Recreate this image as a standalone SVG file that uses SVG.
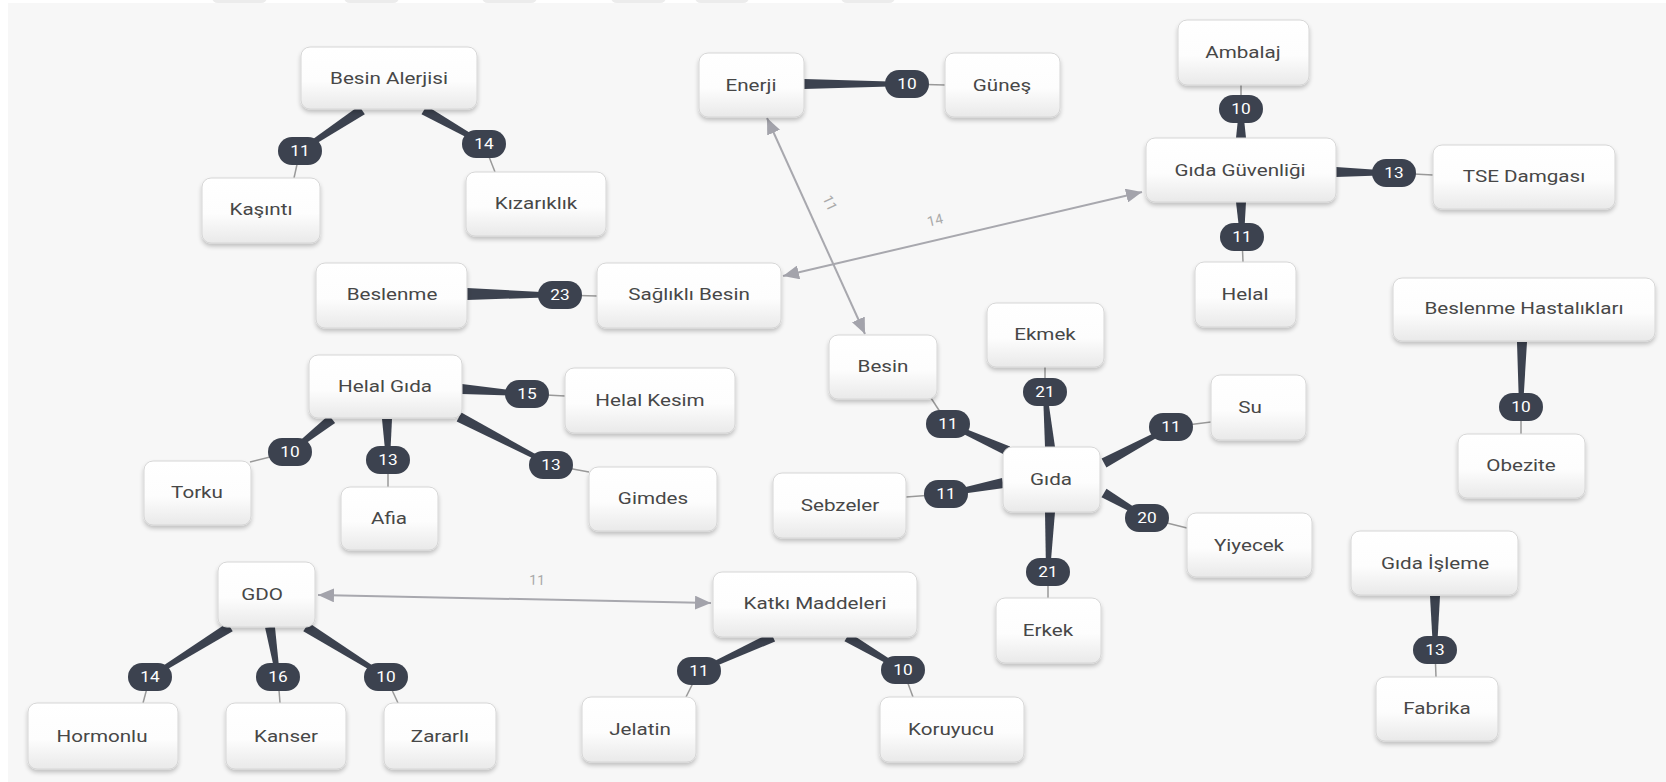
<svg xmlns="http://www.w3.org/2000/svg" width="1666" height="782" viewBox="0 0 1666 782">
<defs>
<linearGradient id="ng" x1="0" y1="0" x2="0" y2="1"><stop offset="0" stop-color="#ffffff"/><stop offset="0.55" stop-color="#fdfdfd"/><stop offset="1" stop-color="#e9e9e9"/></linearGradient>
<filter id="sh" x="-20%" y="-20%" width="140%" height="160%"><feDropShadow dx="0" dy="3" stdDeviation="2" flood-color="#000" flood-opacity="0.22"/></filter>
<marker id="ah" markerUnits="userSpaceOnUse" markerWidth="18" markerHeight="14" refX="16" refY="7" orient="auto-start-reverse"><path d="M0,0 L16,7 L0,14 Z" fill="#a3a3ab"/></marker>
<style>
.n rect{fill:url(#ng);stroke:#d6d6d6;stroke-width:1;filter:url(#sh)}
.n text{font-family:Roboto,"Liberation Sans",sans-serif;font-size:16.5px;fill:#474747;text-anchor:middle;dominant-baseline:central}
.w{fill:#3c424f}
.t{stroke:#999999;stroke-width:1.5;fill:none}
.b rect{fill:#3c424f}
.b text{font-family:Roboto,"Liberation Sans",sans-serif;font-size:15px;fill:#fff;text-anchor:middle;dominant-baseline:central}
.a{stroke:#a8a8ae;stroke-width:2;fill:none;marker-start:url(#ah);marker-end:url(#ah)}
.al{font-family:Roboto,"Liberation Sans",sans-serif;font-size:14px;fill:#aaaaaa;text-anchor:middle;dominant-baseline:central}
</style>
</defs>
<rect x="0" y="0" width="1666" height="782" fill="#ffffff"/>
<rect x="8" y="3" width="1658" height="779" fill="#f7f7f7"/>
<g fill="#ececec">
<rect x="212" y="-8" width="55" height="11" rx="6"/>
<rect x="344" y="-8" width="55" height="11" rx="6"/>
<rect x="482" y="-8" width="55" height="11" rx="6"/>
<rect x="611" y="-8" width="55" height="11" rx="6"/>
<rect x="695" y="-8" width="54" height="11" rx="6"/>
<rect x="841" y="-8" width="54" height="11" rx="6"/>
</g>
<g id="connectors">
<line class="a" x1="767" y1="118" x2="865" y2="334"/>
<line class="a" x1="783" y1="276" x2="1142" y2="192"/>
<line class="a" x1="318" y1="595" x2="711" y2="603"/>
<text class="al" transform="translate(830 203) rotate(65)">11</text>
<text class="al" transform="translate(935 220) rotate(-13.5)">14</text>
<text class="al" transform="translate(537 580) rotate(1)">11</text>
<line class="t" x1="300" y1="151" x2="294" y2="178"/>
<line class="t" x1="484" y1="144" x2="495" y2="172"/>
<line class="t" x1="907" y1="84" x2="945" y2="85"/>
<line class="t" x1="1241" y1="109" x2="1241" y2="85"/>
<line class="t" x1="1394" y1="173" x2="1433" y2="175"/>
<line class="t" x1="1242" y1="237" x2="1243" y2="262"/>
<line class="t" x1="560" y1="295" x2="597" y2="296"/>
<line class="t" x1="1521" y1="407" x2="1521" y2="434"/>
<line class="t" x1="527" y1="394" x2="565" y2="396"/>
<line class="t" x1="290" y1="452" x2="250" y2="462"/>
<line class="t" x1="388" y1="460" x2="388" y2="487"/>
<line class="t" x1="551" y1="465" x2="589" y2="472"/>
<line class="t" x1="948" y1="424" x2="931" y2="398"/>
<line class="t" x1="1045" y1="392" x2="1045" y2="367"/>
<line class="t" x1="1171" y1="427" x2="1211" y2="422"/>
<line class="t" x1="946" y1="494" x2="906" y2="497"/>
<line class="t" x1="1147" y1="518" x2="1187" y2="528"/>
<line class="t" x1="1048" y1="572" x2="1048" y2="598"/>
<line class="t" x1="1435" y1="650" x2="1436" y2="677"/>
<line class="t" x1="150" y1="677" x2="143" y2="703"/>
<line class="t" x1="278" y1="677" x2="280" y2="703"/>
<line class="t" x1="386" y1="677" x2="398" y2="703"/>
<line class="t" x1="699" y1="671" x2="686" y2="697"/>
<line class="t" x1="903" y1="670" x2="913" y2="697"/>
<polygon class="w" points="359.2,105.8 298.9,149.3 301.1,152.7 364.8,114.2"/>
<polygon class="w" points="421.5,114.3 483,145.7 485,142.3 426.5,105.7"/>
<polygon class="w" points="804,79 907,82 907,86 804,89"/>
<polygon class="w" points="1236,138 1239,109 1243,109 1246,138"/>
<polygon class="w" points="1336,167 1394,171 1394,175 1336,177"/>
<polygon class="w" points="1236,202 1240,237 1244,237 1246,202"/>
<polygon class="w" points="467,288 560,293 560,297 467,300"/>
<polygon class="w" points="1517,342 1519,407 1523,407 1527,342"/>
<polygon class="w" points="462,384 527,392 527,396 462,394"/>
<polygon class="w" points="328.9,415.1 288.8,450.4 291.2,453.6 335.1,422.9"/>
<polygon class="w" points="382,419 386,460 390,460 392,419"/>
<polygon class="w" points="456.7,421.4 550.1,466.8 551.9,463.2 461.3,412.6"/>
<polygon class="w" points="1010.1,446.4 948.8,422.2 947.2,425.8 1006,455.6"/>
<polygon class="w" points="1045,447 1043,392 1047,392 1055,447"/>
<polygon class="w" points="1106.4,467.4 1172,428.8 1170.1,425.2 1101.6,458.6"/>
<polygon class="w" points="1002.1,478.1 945.6,492 946.4,496 1004,487.9"/>
<polygon class="w" points="1101.5,497.3 1146,519.7 1148,516.3 1106.5,488.7"/>
<polygon class="w" points="1045,512 1046,572 1050,572 1055,512"/>
<polygon class="w" points="1430,596 1433,650 1437,650 1440,596"/>
<polygon class="w" points="227.4,622.8 148.9,675.3 151.1,678.7 232.7,631.2"/>
<polygon class="w" points="265.1,627.8 276,677.3 280,676.7 274.9,626.2"/>
<polygon class="w" points="303.3,631.2 384.9,678.7 387.1,675.3 308.7,622.8"/>
<polygon class="w" points="770.9,632.5 698.2,669.2 699.8,672.8 775.1,641.5"/>
<polygon class="w" points="844.5,641.3 902,671.7 904,668.3 849.5,632.7"/>
<g class="b">
<g transform="translate(300 151)"><rect x="-22" y="-14" width="44" height="28" rx="14"/><text transform="scale(1.15 1)">11</text></g>
<g transform="translate(484 144)"><rect x="-22" y="-14" width="44" height="28" rx="14"/><text transform="scale(1.15 1)">14</text></g>
<g transform="translate(907 84)"><rect x="-22" y="-14" width="44" height="28" rx="14"/><text transform="scale(1.15 1)">10</text></g>
<g transform="translate(1241 109)"><rect x="-22" y="-14" width="44" height="28" rx="14"/><text transform="scale(1.15 1)">10</text></g>
<g transform="translate(1394 173)"><rect x="-22" y="-14" width="44" height="28" rx="14"/><text transform="scale(1.15 1)">13</text></g>
<g transform="translate(1242 237)"><rect x="-22" y="-14" width="44" height="28" rx="14"/><text transform="scale(1.15 1)">11</text></g>
<g transform="translate(560 295)"><rect x="-22" y="-14" width="44" height="28" rx="14"/><text transform="scale(1.15 1)">23</text></g>
<g transform="translate(1521 407)"><rect x="-22" y="-14" width="44" height="28" rx="14"/><text transform="scale(1.15 1)">10</text></g>
<g transform="translate(527 394)"><rect x="-22" y="-14" width="44" height="28" rx="14"/><text transform="scale(1.15 1)">15</text></g>
<g transform="translate(290 452)"><rect x="-22" y="-14" width="44" height="28" rx="14"/><text transform="scale(1.15 1)">10</text></g>
<g transform="translate(388 460)"><rect x="-22" y="-14" width="44" height="28" rx="14"/><text transform="scale(1.15 1)">13</text></g>
<g transform="translate(551 465)"><rect x="-22" y="-14" width="44" height="28" rx="14"/><text transform="scale(1.15 1)">13</text></g>
<g transform="translate(948 424)"><rect x="-22" y="-14" width="44" height="28" rx="14"/><text transform="scale(1.15 1)">11</text></g>
<g transform="translate(1045 392)"><rect x="-22" y="-14" width="44" height="28" rx="14"/><text transform="scale(1.15 1)">21</text></g>
<g transform="translate(1171 427)"><rect x="-22" y="-14" width="44" height="28" rx="14"/><text transform="scale(1.15 1)">11</text></g>
<g transform="translate(946 494)"><rect x="-22" y="-14" width="44" height="28" rx="14"/><text transform="scale(1.15 1)">11</text></g>
<g transform="translate(1147 518)"><rect x="-22" y="-14" width="44" height="28" rx="14"/><text transform="scale(1.15 1)">20</text></g>
<g transform="translate(1048 572)"><rect x="-22" y="-14" width="44" height="28" rx="14"/><text transform="scale(1.15 1)">21</text></g>
<g transform="translate(1435 650)"><rect x="-22" y="-14" width="44" height="28" rx="14"/><text transform="scale(1.15 1)">13</text></g>
<g transform="translate(150 677)"><rect x="-22" y="-14" width="44" height="28" rx="14"/><text transform="scale(1.15 1)">14</text></g>
<g transform="translate(278 677)"><rect x="-22" y="-14" width="44" height="28" rx="14"/><text transform="scale(1.15 1)">16</text></g>
<g transform="translate(386 677)"><rect x="-22" y="-14" width="44" height="28" rx="14"/><text transform="scale(1.15 1)">10</text></g>
<g transform="translate(699 671)"><rect x="-22" y="-14" width="44" height="28" rx="14"/><text transform="scale(1.15 1)">11</text></g>
<g transform="translate(903 670)"><rect x="-22" y="-14" width="44" height="28" rx="14"/><text transform="scale(1.15 1)">10</text></g>
</g>
</g>
<g id="n-besin-alerjisi" class="n"><rect x="301" y="47" width="176" height="62" rx="9"/><text transform="translate(389 79) scale(1.25 1)">Besin Alerjisi</text></g>
<g id="n-kasinti" class="n"><rect x="202" y="178" width="118" height="65" rx="9"/><text transform="translate(261 210) scale(1.25 1)">Kaşıntı</text></g>
<g id="n-kizariklik" class="n"><rect x="466" y="172" width="140" height="64" rx="9"/><text transform="translate(536 204) scale(1.25 1)">Kızarıklık</text></g>
<g id="n-enerji" class="n"><rect x="699" y="53" width="105" height="64" rx="9"/><text transform="translate(751 86) scale(1.25 1)">Enerji</text></g>
<g id="n-gunes" class="n"><rect x="945" y="53" width="115" height="64" rx="9"/><text transform="translate(1002 86) scale(1.25 1)">Güneş</text></g>
<g id="n-ambalaj" class="n"><rect x="1178" y="20" width="131" height="65" rx="9"/><text transform="translate(1243 53) scale(1.25 1)">Ambalaj</text></g>
<g id="n-gida-guvenligi" class="n"><rect x="1146" y="138" width="190" height="64" rx="9"/><text transform="translate(1240 171) scale(1.25 1)">Gıda Güvenliği</text></g>
<g id="n-tse" class="n"><rect x="1433" y="145" width="182" height="64" rx="9"/><text transform="translate(1524 177) scale(1.25 1)">TSE Damgası</text></g>
<g id="n-helal" class="n"><rect x="1195" y="262" width="101" height="65" rx="9"/><text transform="translate(1245 295) scale(1.25 1)">Helal</text></g>
<g id="n-beslenme-hastaliklari" class="n"><rect x="1393" y="278" width="262" height="63" rx="9"/><text transform="translate(1524 309) scale(1.25 1)">Beslenme Hastalıkları</text></g>
<g id="n-beslenme" class="n"><rect x="316" y="263" width="151" height="65" rx="9"/><text transform="translate(392 295) scale(1.25 1)">Beslenme</text></g>
<g id="n-saglikli-besin" class="n"><rect x="597" y="263" width="184" height="65" rx="9"/><text transform="translate(689 295) scale(1.25 1)">Sağlıklı Besin</text></g>
<g id="n-helal-gida" class="n"><rect x="309" y="355" width="153" height="63" rx="9"/><text transform="translate(385 387) scale(1.25 1)">Helal Gıda</text></g>
<g id="n-helal-kesim" class="n"><rect x="565" y="368" width="170" height="65" rx="9"/><text transform="translate(650 401) scale(1.25 1)">Helal Kesim</text></g>
<g id="n-torku" class="n"><rect x="144" y="461" width="107" height="64" rx="9"/><text transform="translate(197 493) scale(1.25 1)">Torku</text></g>
<g id="n-afia" class="n"><rect x="341" y="487" width="97" height="63" rx="9"/><text transform="translate(389 519) scale(1.25 1)">Afia</text></g>
<g id="n-gimdes" class="n"><rect x="589" y="467" width="128" height="64" rx="9"/><text transform="translate(653 499) scale(1.25 1)">Gimdes</text></g>
<g id="n-besin" class="n"><rect x="829" y="335" width="108" height="64" rx="9"/><text transform="translate(883 367) scale(1.25 1)">Besin</text></g>
<g id="n-ekmek" class="n"><rect x="987" y="303" width="117" height="64" rx="9"/><text transform="translate(1045 335) scale(1.25 1)">Ekmek</text></g>
<g id="n-su" class="n"><rect x="1211" y="375" width="95" height="65" rx="9"/><text transform="translate(1250 408) scale(1.25 1)">Su</text></g>
<g id="n-gida" class="n"><rect x="1003" y="447" width="97" height="65" rx="9"/><text transform="translate(1051 480) scale(1.25 1)">Gıda</text></g>
<g id="n-sebzeler" class="n"><rect x="773" y="473" width="133" height="65" rx="9"/><text transform="translate(840 506) scale(1.25 1)">Sebzeler</text></g>
<g id="n-yiyecek" class="n"><rect x="1187" y="513" width="125" height="64" rx="9"/><text transform="translate(1249 546) scale(1.25 1)">Yiyecek</text></g>
<g id="n-obezite" class="n"><rect x="1458" y="434" width="127" height="64" rx="9"/><text transform="translate(1521 466) scale(1.25 1)">Obezite</text></g>
<g id="n-gida-isleme" class="n"><rect x="1351" y="531" width="167" height="64" rx="9"/><text transform="translate(1435 564) scale(1.25 1)">Gıda İşleme</text></g>
<g id="n-fabrika" class="n"><rect x="1376" y="677" width="122" height="64" rx="9"/><text transform="translate(1437 709) scale(1.25 1)">Fabrika</text></g>
<g id="n-erkek" class="n"><rect x="996" y="598" width="105" height="65" rx="9"/><text transform="translate(1048 631) scale(1.25 1)">Erkek</text></g>
<g id="n-katki" class="n"><rect x="713" y="572" width="204" height="65" rx="9"/><text transform="translate(815 604) scale(1.25 1)">Katkı Maddeleri</text></g>
<g id="n-jelatin" class="n"><rect x="582" y="697" width="114" height="65" rx="9"/><text transform="translate(640 730) scale(1.25 1)">Jelatin</text></g>
<g id="n-koruyucu" class="n"><rect x="880" y="697" width="144" height="65" rx="9"/><text transform="translate(951 730) scale(1.25 1)">Koruyucu</text></g>
<g id="n-gdo" class="n"><rect x="218" y="562" width="97" height="65" rx="9"/><text transform="translate(262 595) scale(1.25 1)">GDO</text></g>
<g id="n-hormonlu" class="n"><rect x="28" y="703" width="150" height="66" rx="9"/><text transform="translate(102 737) scale(1.25 1)">Hormonlu</text></g>
<g id="n-kanser" class="n"><rect x="226" y="703" width="120" height="66" rx="9"/><text transform="translate(286 737) scale(1.25 1)">Kanser</text></g>
<g id="n-zararli" class="n"><rect x="384" y="703" width="112" height="66" rx="9"/><text transform="translate(440 737) scale(1.25 1)">Zararlı</text></g>
</svg>
